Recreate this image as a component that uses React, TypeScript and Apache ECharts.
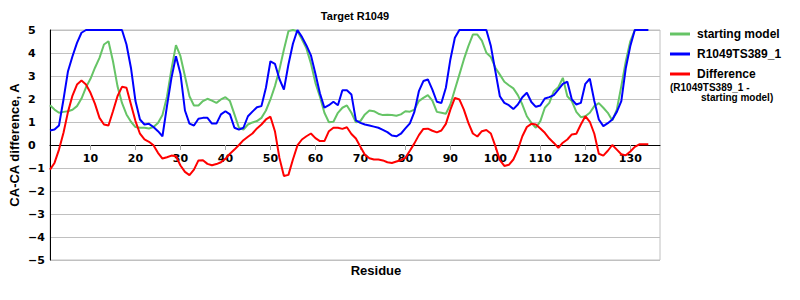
import React, { useEffect, useRef } from "react";
import * as echarts from "echarts";

// Residue numbers of the plotted points start at 1
const firstResidue = 1;

const startingModel: number[] = [
  1.73, 1.54, 1.40, 1.44, 1.47, 1.53, 1.69, 2.02, 2.51, 2.88,
  3.36, 3.79, 4.37, 4.51, 3.64, 2.56, 1.83, 1.33, 1.01, 0.78,
  0.75, 0.75, 0.72, 0.78, 0.96, 1.30, 2.10, 3.30, 4.34, 3.86,
  2.99, 2.12, 1.72, 1.72, 1.91, 2.01, 1.93, 1.83, 1.98, 2.08,
  1.91, 1.33, 0.75, 0.67, 0.89, 0.98, 1.04, 1.18, 1.50, 1.98,
  2.56, 3.28, 4.15, 4.95, 5.00, 4.95, 4.60, 4.20, 3.55, 2.70,
  2.10, 1.40, 0.99, 1.01, 1.40, 1.62, 1.72, 1.40, 0.99, 1.04,
  1.33, 1.50, 1.47, 1.36, 1.30, 1.31, 1.30, 1.27, 1.33, 1.47,
  1.45, 1.54, 1.91, 2.05, 2.17, 1.93, 1.44, 1.40, 1.36, 1.76,
  2.41, 3.06, 3.72, 4.30, 4.80, 4.80, 4.54, 4.01, 3.82, 3.36,
  3.06, 2.75, 2.60, 2.46, 2.17, 1.76, 1.25, 0.96, 0.75, 1.04,
  1.62, 1.83, 2.34, 2.51, 2.92, 2.12, 1.91, 1.44, 1.21, 1.25,
  1.40, 1.69, 1.82, 1.62, 1.40, 1.07, 1.54, 2.56, 3.64, 4.51,
  5.00, 5.00, 5.00, 5.00,
];

const modelTS389: number[] = [
  0.63, 0.67, 0.85, 1.98, 3.21, 3.86, 4.44, 4.88, 5.00, 5.00,
  5.00, 5.00, 5.00, 5.00, 5.00, 5.00, 5.00, 4.37, 3.35, 1.91,
  1.11, 0.89, 0.92, 0.78, 0.60, 0.38, 1.69, 2.92, 3.86, 3.10,
  1.50, 0.93, 0.85, 1.14, 1.18, 1.18, 0.93, 0.93, 1.33, 1.47,
  1.33, 0.75, 0.67, 0.75, 1.25, 1.45, 1.64, 1.69, 2.49, 3.64,
  3.53, 2.87, 2.41, 3.50, 4.40, 5.00, 4.70, 4.33, 3.90, 3.10,
  2.25, 1.62, 1.73, 1.88, 1.73, 2.38, 2.38, 2.20, 1.07, 0.96,
  0.89, 0.85, 0.80, 0.75, 0.66, 0.56, 0.41, 0.38, 0.49, 0.72,
  0.94, 1.44, 2.34, 2.78, 2.85, 2.41, 1.88, 1.83, 2.49, 3.72,
  4.66, 5.00, 5.00, 5.00, 5.00, 5.00, 5.00, 5.00, 4.30, 3.21,
  2.12, 1.83, 1.73, 1.56, 1.76, 2.08, 2.27, 1.87, 1.66, 1.72,
  2.02, 2.08, 2.17, 2.41, 2.66, 2.75, 1.98, 1.76, 1.83, 2.66,
  2.88, 1.91, 1.11, 0.82, 0.95, 1.11, 1.44, 1.91, 3.35, 4.30,
  5.00, 5.00, 5.00, 5.00,
];

const difference: number[] = [
  -1.07, -0.78, -0.20, 0.53, 1.44, 2.15, 2.63, 2.80, 2.63, 2.27,
  1.79, 1.18, 0.89, 0.85, 1.47, 2.12, 2.53, 2.49, 1.76, 1.04,
  0.49, 0.24, 0.14, -0.01, -0.34, -0.59, -0.53, -0.46, -0.49, -0.89,
  -1.17, -1.31, -1.07, -0.67, -0.66, -0.82, -0.88, -0.83, -0.75, -0.60,
  -0.38, -0.20, 0.00, 0.21, 0.36, 0.50, 0.72, 0.89, 1.11, 1.23,
  0.60, -0.56, -1.35, -1.30, -0.63, -0.02, 0.24, 0.38, 0.50, 0.30,
  0.17, 0.17, 0.60, 0.75, 0.75, 0.70, 0.77, 0.48, 0.28, -0.08,
  -0.42, -0.58, -0.63, -0.63, -0.67, -0.75, -0.78, -0.72, -0.66, -0.56,
  -0.25, 0.07, 0.43, 0.70, 0.71, 0.62, 0.55, 0.63, 0.92, 1.54,
  2.05, 1.98, 1.54, 0.96, 0.50, 0.37, 0.60, 0.65, 0.50, -0.05,
  -0.66, -0.91, -0.86, -0.63, -0.20, 0.38, 0.78, 0.92, 0.89, 0.72,
  0.53, 0.28, 0.09, -0.12, 0.10, 0.24, 0.46, 0.49, 0.89, 1.25,
  1.01, 0.49, -0.38, -0.46, -0.25, 0.00, -0.20, -0.40, -0.45, -0.28,
  -0.08, 0.03, 0.03, 0.03,
];

const residueTicks: number[] = [10, 20, 30, 40, 50, 60, 70, 80, 90, 100, 110, 120, 130];

const seriesNames = ["starting model", "R1049TS389_1", "Difference"];
const seriesColors = ["#66c466", "#0000ff", "#ff0000"];
const titleText = "Target R1049";
const yAxisTitle = "CA-CA difference, A";
const xAxisTitle = "Residue";
const legendNote = ["(R1049TS389_1 -", "starting model)"];

export default function App() {
  const ref = useRef<HTMLDivElement>(null);

  useEffect(() => {
    document.body.style.margin = "0";
    if (!ref.current) return;
    const chart = echarts.init(ref.current, null, { renderer: "svg" });
    const toPairs = (arr: number[]) => arr.map((v, i) => [firstResidue + i, v]);
    const allSeries = [startingModel, modelTS389, difference];
    const gridTop = 30;
    const gridHeight = 230;

    chart.setOption({
      animation: false,
      backgroundColor: "#ffffff",
      grid: {
        left: 50,
        top: gridTop,
        width: 610,
        height: gridHeight,
        show: true,
        borderColor: "#c0c0c0",
        borderWidth: 1,
        backgroundColor: "transparent",
      },
      legend: {
        orient: "vertical",
        left: 670,
        top: 27,
        padding: 0,
        itemWidth: 20,
        itemHeight: 3,
        itemGap: 6,
        icon: "rect",
        data: seriesNames,
        textStyle: {
          fontFamily: "Liberation Sans",
          fontWeight: "bold",
          fontSize: 12,
          color: "#000",
          lineHeight: 14,
          padding: [0, 0, 0, 2],
        },
      },
      xAxis: {
        type: "value",
        position: "bottom",
        min: 1,
        max: 136.6,
        // move the axis up to the y = 0 line (half of the grid height)
        offset: -gridHeight / 2,
        axisLine: { show: true, onZero: false, lineStyle: { color: "#000", width: 1 } },
        axisTick: {
          show: true,
          customValues: residueTicks,
          length: 5,
          lineStyle: { color: "#a8a8a8" },
        },
        axisLabel: {
          customValues: residueTicks,
          fontFamily: "DejaVu Sans",
          fontWeight: "bold",
          fontSize: 11,
          color: "#000",
          margin: 8,
        },
        splitLine: { show: false },
      },
      yAxis: {
        type: "value",
        min: -5,
        max: 5,
        interval: 1,
        axisLine: { show: true, onZero: false, lineStyle: { color: "#000", width: 1 } },
        axisTick: { show: false },
        splitLine: { show: true, lineStyle: { color: "#c0c0c0", width: 1 } },
        axisLabel: {
          align: "left",
          margin: 22,
          fontFamily: "DejaVu Sans",
          fontWeight: "bold",
          fontSize: 11,
          color: "#000",
          formatter: (v: number) => String(v).replace("-", "\u2212"),
        },
      },
      series: allSeries.map((arr, i) => ({
        name: seriesNames[i],
        type: "line",
        data: toPairs(arr),
        showSymbol: false,
        symbol: "none",
        color: seriesColors[i],
        lineStyle: { color: seriesColors[i], width: 2 },
        clip: true,
        z: 2 + i,
      })),
      graphic: [
        {
          type: "text",
          x: 355,
          y: 15.5,
          style: {
            text: titleText,
            fontFamily: "Liberation Sans",
            fontWeight: "bold",
            fontSize: 11,
            fill: "#000",
            align: "center",
            verticalAlign: "middle",
          },
        },
        {
          type: "text",
          x: 14,
          y: 145,
          rotation: Math.PI / 2,
          style: {
            text: yAxisTitle,
            fontFamily: "Liberation Sans",
            fontWeight: "bold",
            fontSize: 13,
            fill: "#000",
            align: "center",
            verticalAlign: "middle",
          },
        },
        {
          type: "text",
          x: 376,
          y: 270,
          style: {
            text: xAxisTitle,
            fontFamily: "Liberation Sans",
            fontWeight: "bold",
            fontSize: 13,
            fill: "#000",
            align: "center",
            verticalAlign: "middle",
          },
        },
        {
          type: "text",
          x: 670,
          y: 87,
          style: {
            text: legendNote[0],
            fontFamily: "Liberation Sans",
            fontWeight: "bold",
            fontSize: 10,
            fill: "#000",
            align: "left",
            verticalAlign: "middle",
          },
        },
        {
          type: "text",
          x: 701,
          y: 97,
          style: {
            text: legendNote[1],
            fontFamily: "Liberation Sans",
            fontWeight: "bold",
            fontSize: 10,
            fill: "#000",
            align: "left",
            verticalAlign: "middle",
          },
        },
      ],
    });

    return () => chart.dispose();
  }, []);

  return <div ref={ref} style={{ width: 800, height: 300 }} />;
}
